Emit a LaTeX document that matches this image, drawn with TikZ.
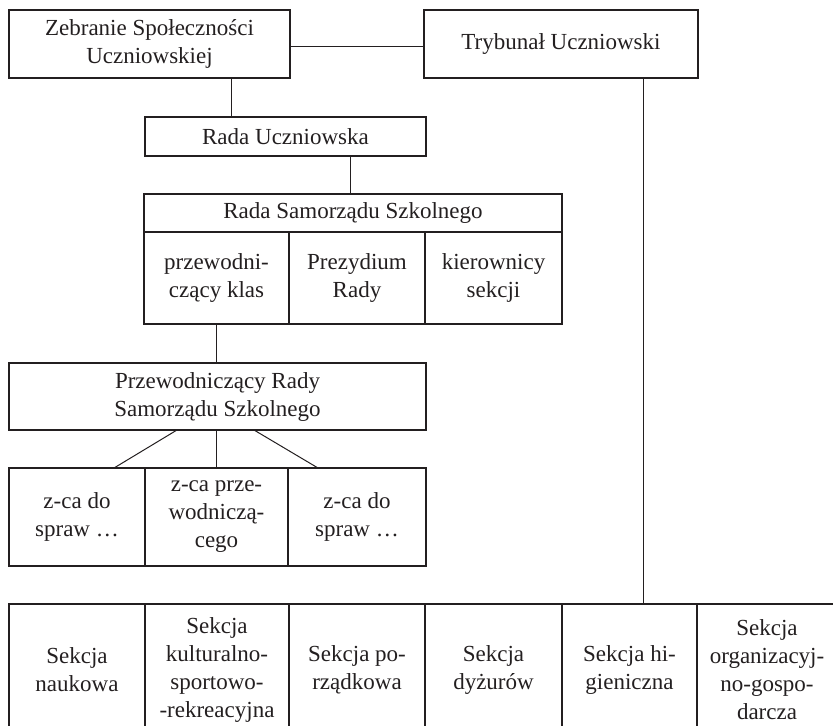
\documentclass[tikz,border=0pt]{standalone}
\usepackage{fontspec}
\setmainfont{Liberation Serif}
\usetikzlibrary{positioning}
\definecolor{ink}{HTML}{231F20}

\begin{document}
\begin{tikzpicture}[x=1bp, y=-1bp,
    every node/.style={font=\fontsize{23bp}{28bp}\selectfont, text=ink},
    box/.style={draw=ink, line width=2bp, inner sep=0pt, outer sep=0pt, align=center},
    link/.style={draw=ink, line width=1bp}
    ]
\useasboundingbox (0,0) rectangle (833,726);
% top level
\node[box, anchor=north west, minimum width=281bp, minimum height=68bp] (zeb) at (9,10) {Zebranie Społeczności\\Uczniowskiej};
\node[box, anchor=north west, minimum width=274bp, minimum height=68bp] (tryb) at (424,10) {Trybunał Uczniowski};
\node[box, anchor=north west, minimum width=281bp, minimum height=39bp] (rada) at (145,117) {Rada Uczniowska};

% Rada Samorzadu
\node[box, anchor=north west, minimum width=418bp, minimum height=38bp] (rss) at (144,194) {Rada Samorządu Szkolnego};
\node[box, anchor=north west, minimum width=145bp, minimum height=92bp] (klas) at (rss.south west) {przewodni-\\czący klas};
\node[box, right=0pt of klas, minimum width=136bp, minimum height=92bp] (prez) {Prezydium\\Rady};
\node[box, right=0pt of prez, minimum width=137bp, minimum height=92bp] (kier) {kierownicy\\sekcji};

% Przewodniczacy i zastepcy
\node[box, anchor=north west, minimum width=417bp, minimum height=67bp] (przew) at (9,363) {Przewodniczący Rady\\Samorządu Szkolnego};
\node[box, anchor=north west, minimum width=136bp, minimum height=98bp] (zca1) at (9,468) {z-ca do\\spraw …};
\node[box, right=0pt of zca1, minimum width=143bp, minimum height=98bp] (zca2) {z-ca prze-\\wodniczą-\\cego};
\node[box, right=0pt of zca2, minimum width=138bp, minimum height=98bp] (zca3) {z-ca do\\spraw …};

% sekcje
\node[box, anchor=north west, minimum width=136bp, minimum height=132bp] (s1) at (9,604) {Sekcja\\naukowa};
\node[box, right=0pt of s1, minimum width=144bp, minimum height=132bp] (s2) {Sekcja\\kulturalno-\\sportowo-\\-rekreacyjna};
\node[box, right=0pt of s2, minimum width=136bp, minimum height=132bp] (s3) {Sekcja po-\\rządkowa};
\node[box, right=0pt of s3, minimum width=137bp, minimum height=132bp] (s4) {Sekcja\\dyżurów};
\node[box, right=0pt of s4, minimum width=135bp, minimum height=132bp] (s5) {Sekcja hi-\\gieniczna};
\node[box, right=0pt of s5, minimum width=140bp, minimum height=132bp] (s6) {Sekcja\\organizacyj-\\no-gospo-\\darcza};

% connectors
\draw[link] ([yshift=-3bp]zeb.east) -- ([yshift=-3bp]tryb.west);
\draw[link] ([xshift=81.5bp]zeb.south) -- ([xshift=81.5bp]zeb.south |- rada.north);
\draw[link] ([xshift=64.5bp]rada.south) -- ([xshift=64.5bp]rada.south |- rss.north);
\draw[link] (klas.south) -- (klas.south |- przew.north);
\draw[link] ([xshift=-40.5bp]przew.south) -- ([xshift=37bp]zca1.north);
\draw[link] (zca2.north |- przew.south) -- (zca2.north);
\draw[link] ([xshift=36.5bp]przew.south) -- ([xshift=-39bp]zca3.north);
\draw[link] ([xshift=82bp]tryb.south) -- ([xshift=82bp]tryb.south |- s5.north);
\end{tikzpicture}
\end{document}
